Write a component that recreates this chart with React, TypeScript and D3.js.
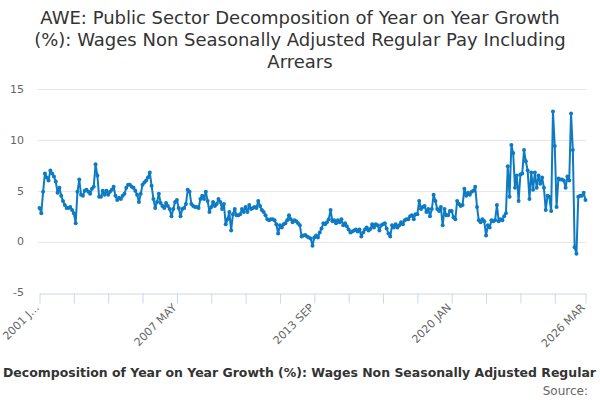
import * as d3 from "d3";
import { useEffect, useRef } from "react";

const titleLines = [
  "AWE: Public Sector Decomposition of Year on Year Growth",
  "(%): Wages Non Seasonally Adjusted Regular Pay Including",
  "Arrears",
];

// the legend line only shows its middle part in the picture
const legendText =
  "Decomposition of Year on Year Growth (%): Wages Non Seasonally Adjusted Regular";

// monthly values, 2001 Jan .. 2026 Mar
const growth2001 = [
  3.3, 2.8, 4.9, 6.7, 6.3, 6.0, 7.0, 6.7, 6.4, 5.9, 4.8, 5.3, 4.5, 4.0, 3.6,
  3.3, 3.3, 3.4, 3.1, 2.8, 1.8, 4.9, 6.1, 4.6, 4.5, 5.0, 5.1, 4.9, 4.7, 5.2,
  5.4, 7.6, 6.5, 4.4, 4.4, 5.0, 4.6, 5.0, 4.6, 4.9, 5.1, 5.4, 4.5, 4.1,
];
const growth2004 = [
  4.3, 4.2, 4.5, 4.7, 5.3, 5.6, 5.6, 5.4, 5.3, 5.0, 4.6, 3.9, 4.7, 5.6, 5.8,
  6.0, 6.3, 6.8, 5.5, 4.2, 3.3, 3.9, 4.7, 3.8, 3.5, 3.3, 3.8, 3.5, 3.2, 2.5,
  3.2, 3.9, 4.1, 3.3, 2.5, 3.2, 3.3, 3.7, 5.1, 4.9, 3.7, 3.5, 3.4, 3.4,
];
const growth2008 = [
  3.3, 4.2, 4.5, 4.2, 4.9, 4.0, 2.9, 3.4, 3.9, 3.5, 3.7, 4.2, 3.9, 3.2, 3.7,
  1.7, 2.2, 2.9, 1.1, 2.7, 3.2, 2.6, 2.6, 2.7, 3.2, 2.9, 3.4, 2.9, 3.6, 3.2,
  3.3, 3.4, 3.3, 4.0, 3.5, 3.1, 2.9, 2.6, 2.2, 2.1, 2.2, 2.2, 2.1, 1.7,
];
const growth2012 = [
  0.8, 1.6, 1.4, 1.7, 1.8, 2.1, 2.6, 2.2, 1.9, 2.1, 2.0, 1.8, 1.6, 0.5, 0.6,
  0.65, 0.5, 0.4, 0.3, -0.4, 0.4, 0.6, 0.4, 0.9, 1.3, 1.8, 1.7, 1.9, 2.2, 3.1,
  2.0, 2.1, 1.8, 2.1, 1.9, 2.2, 1.6, 1.8, 1.5, 1.2, 0.9, 1.0, 1.1, 1.2,
];
const growth2015 = [
  1.0, 1.2, 0.5, 0.9, 1.2, 1.4, 1.1, 1.25, 1.7, 1.4, 1.7, 1.6, 1.1, 1.6, 1.7,
  1.8, 1.3, 0.8, 0.5, 1.6, 1.4, 1.7, 1.4, 1.6, 1.9, 1.7, 2.1, 2.2, 2.2, 2.5,
  2.6, 2.2, 2.7, 2.7, 4.0, 3.2, 3.4, 3.5, 2.9, 3.2, 2.5, 3.2, 4.6, 4.0,
];
const growth2019 = [
  3.2, 3.0, 3.4, 1.6, 3.2, 2.6, 2.6, 3.0, 3.0, 2.4, 2.2, 4.0, 3.7, 3.5, 3.6,
  5.2, 4.5, 4.8, 4.6, 4.9, 5.0, 5.4, 3.4, 2.1, 1.9, 2.2, 2.0, 0.6, 1.6, 1.4,
  2.1, 2.0, 2.1, 3.6, 2.0, 2.2, 2.1, 2.5, 2.8,
];
const growth2022 = [
  7.4, 4.4, 9.5, 8.7, 5.3, 6.5, 4.0, 6.6, 6.7, 9.0, 7.9, 7.0, 4.2, 6.8, 5.1,
  6.8, 5.3, 6.5, 5.7, 6.3, 5.3, 3.1, 4.5, 4.4, 3.0, 12.8, 9.4, 3.4, 6.2, 6.1,
  6.1, 6.0, 5.3, 6.4, 6.0, 12.6, 9.0, -0.55, -1.2, 4.4, 4.5, 4.5, 4.8, 4.1,
];

const growth = [
  ...growth2001,
  ...growth2004,
  ...growth2008,
  ...growth2012,
  ...growth2015,
  ...growth2019,
  ...growth2022,
];

const tickStep = 19;
const labelIndexes = [0, 76, 152, 228, 302];
const tickLabels = ["2001 J…", "2007 MAY", "2013 SEP", "2020 JAN", "2026 MAR"];
const yTicks = [-5, 0, 5, 10, 15];

const font = "'DejaVu Sans', Verdana, sans-serif";
const lineColor = "#0d7bc4";

const App = () => {
  const svgRef = useRef<SVGSVGElement | null>(null);

  useEffect(() => {
    const width = 600;
    const last = growth.length - 1;

    const svg = d3.select(svgRef.current);
    svg.selectAll("*").remove();

    const x = d3.scaleLinear().domain([0, last]).range([39.5, 585.5]);
    const y = d3.scaleLinear().domain([-5, 15]).range([292.5, 89]);

    // title
    svg
      .append("g")
      .selectAll("text")
      .data(titleLines)
      .enter()
      .append("text")
      .attr("x", width / 2)
      .attr("y", (_, i) => 24 + i * 22)
      .attr("text-anchor", "middle")
      .attr("font-size", 18)
      .attr("fill", "#333333")
      .text((d) => d);

    // grid lines
    svg
      .append("g")
      .selectAll("line")
      .data(yTicks.filter((t) => t > -5))
      .enter()
      .append("line")
      .attr("x1", 38)
      .attr("x2", 586)
      .attr("y1", (d) => Math.round(y(d)) + 0.5)
      .attr("y2", (d) => Math.round(y(d)) + 0.5)
      .attr("stroke", "#e6e6e6");

    // y labels
    svg
      .append("g")
      .selectAll("text")
      .data(yTicks)
      .enter()
      .append("text")
      .attr("x", 24)
      .attr("y", (d) => y(d))
      .attr("dy", "0.35em")
      .attr("text-anchor", "end")
      .attr("font-size", 11)
      .attr("fill", "#666666")
      .text((d) => d);

    // x axis
    const tickValues = [...d3.range(0, last, tickStep), last];
    const xAxis = d3
      .axisBottom(x)
      .tickValues(tickValues)
      .tickSize(10)
      .tickSizeOuter(0)
      .tickFormat((d) => {
        const k = labelIndexes.indexOf(d as number);
        return k >= 0 ? tickLabels[k] : "";
      });

    const gx = svg
      .append("g")
      .attr("transform", `translate(0,${Math.round(y(-5)) + 0.5})`)
      .call(xAxis);
    gx.select(".domain").attr("stroke", "#ccd6eb");
    gx.selectAll(".tick line").attr("stroke", "#ccd6eb");
    gx.selectAll(".tick text")
      .attr("x", 0)
      .attr("y", 0)
      .attr("dy", "0.35em")
      .attr("transform", "translate(-3,12) rotate(-45)")
      .attr("text-anchor", "end")
      .attr("font-family", font)
      .attr("font-size", 11)
      .attr("fill", "#666666");

    // series
    const line = d3
      .line<number>()
      .x((_, i) => x(i))
      .y((d) => y(d));

    svg
      .append("path")
      .datum(growth)
      .attr("d", line)
      .attr("fill", "none")
      .attr("stroke", lineColor)
      .attr("stroke-width", 2)
      .attr("stroke-linejoin", "round");

    svg
      .append("g")
      .selectAll("circle")
      .data(growth)
      .enter()
      .append("circle")
      .attr("cx", (_, i) => x(i))
      .attr("cy", (d) => y(d))
      .attr("r", 2)
      .attr("fill", lineColor);

    // legend
    svg
      .append("text")
      .attr("x", 3)
      .attr("y", 377)
      .attr("font-size", 12.5)
      .attr("font-weight", "bold")
      .attr("fill", "#333333")
      .attr("textLength", 593)
      .attr("lengthAdjust", "spacingAndGlyphs")
      .text(legendText);

    // credits
    svg
      .append("text")
      .attr("x", 588)
      .attr("y", 395)
      .attr("text-anchor", "end")
      .attr("font-size", 12)
      .attr("fill", "#666666")
      .text("Source:");
  }, []);

  return (
    <svg
      ref={svgRef}
      width={600}
      height={400}
      style={{
        position: "absolute",
        left: 0,
        top: 0,
        fontFamily: font,
        background: "#ffffff",
      }}
    />
  );
};

export default App;
